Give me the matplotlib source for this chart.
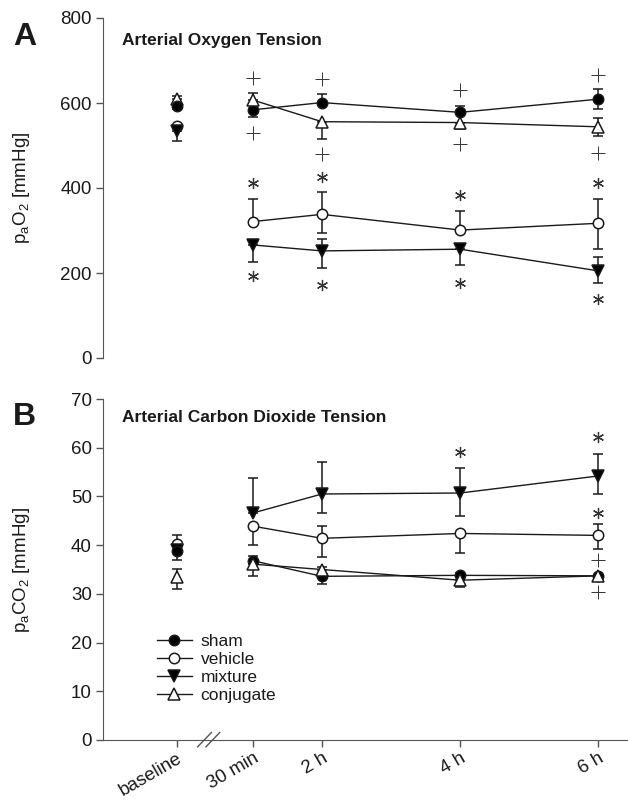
import matplotlib
matplotlib.use("Agg")
import matplotlib.pyplot as plt
import numpy as np

plt.rcParams['font.family'] = ['Liberation Sans', 'DejaVu Sans']
plt.rcParams['mathtext.fontset'] = 'custom'
plt.rcParams['mathtext.rm'] = 'Liberation Sans'
plt.rcParams['mathtext.it'] = 'Liberation Sans'

# time points (30 min .. 6 h at hour positions, baseline placed before the axis break)
time_labels = ["baseline", "30 min", "2 h", "4 h", "6 h"]
time_pos = [-0.1, 1, 2, 4, 6]

# ---- paO2 [mmHg]: mean, lower err, upper err
o2_sham = [592, 584, 601, 578, 609]
o2_sham_lo = [6, 16, 0, 0, 24]
o2_sham_up = [0, 0, 20, 15, 23]
o2_vehicle = [545, 321, 338, 301, 317]
o2_vehicle_lo = [0, 0, 45, 0, 60]
o2_vehicle_up = [0, 52, 53, 45, 56]
o2_mixture = [533, 266, 252, 256, 205]
o2_mixture_lo = [23, 39, 40, 38, 29]
o2_mixture_up = [0, 0, 27, 0, 33]
o2_conj = [609, 607, 556, 554, 544]
o2_conj_lo = [0, 0, 41, 16, 22]
o2_conj_up = [8, 17, 0, 0, 20]

o2_star_up = [412, 427, 384, 412]
o2_star_lo = [193, 172, 177, 140]
o2_plus_up = [658, 656, 631, 666]
o2_plus_lo = [529, 480, 503, 483]

# ---- paCO2 [mmHg]
co2_sham = [38.9, 36.8, 33.6, 33.8, 33.7]
co2_sham_lo = [2.0, 0, 1.5, 0, 0]
co2_sham_up = [0, 1.0, 0, 0.5, 0]
co2_vehicle = [40.3, 43.9, 41.4, 42.4, 42.0]
co2_vehicle_lo = [0, 3.9, 3.8, 4.0, 2.7]
co2_vehicle_up = [1.7, 0, 2.6, 0, 2.4]
co2_mixture = [39.0, 46.6, 50.5, 50.7, 54.2]
co2_mixture_lo = [0, 0, 3.9, 4.8, 3.8]
co2_mixture_up = [0, 7.1, 6.6, 5.1, 4.6]
co2_conj = [33.5, 36.1, 35.0, 32.8, 33.7]
co2_conj_lo = [2.6, 2.5, 0, 1.4, 0]
co2_conj_up = [1.6, 0, 0.6, 0, 0]

co2_star_x = [4, 6, 6]
co2_star_y = [59.2, 62.1, 46.5]
co2_plus_x = [6, 6]
co2_plus_y = [36.9, 30.4]

groups = ["sham", "vehicle", "mixture", "conjugate"]
styles = {
    "sham": dict(marker="o", mfc="black"),
    "vehicle": dict(marker="o", mfc="white"),
    "mixture": dict(marker="v", mfc="black"),
    "conjugate": dict(marker="^", mfc="white"),
}
msizes = {"sham": 7.5, "vehicle": 7.5, "mixture": 8.5, "conjugate": 8.5}
# stacking of the overlapping baseline points
base_z = {"sham": 3.4, "vehicle": 3.1, "mixture": 3.3, "conjugate": 3.2}

ink = "#1a1a1a"
spine_c = "#555555"

fig = plt.figure(figsize=(6.28, 8.0), dpi=100)
ax1 = fig.add_axes([103 / 628, 1 - 358 / 800, 525 / 628, 340 / 800])
ax2 = fig.add_axes([103 / 628, 1 - 740 / 800, 525 / 628, 341 / 800])


def draw_series(ax, x, y, lo, up, name, label=None):
    st = styles[name]
    # baseline point stands alone, the rest are connected
    ax.errorbar(x[0], y[0], yerr=[[lo[0]], [up[0]]], fmt=st["marker"], color=ink,
                mfc=st["mfc"], mec=ink, ms=msizes[name], mew=1.1, elinewidth=1.1,
                capsize=3.6, capthick=1.1, zorder=base_z[name])
    ax.errorbar(x[1:], y[1:], yerr=[lo[1:], up[1:]], fmt="-" + st["marker"], color=ink,
                mfc=st["mfc"], mec=ink, ms=msizes[name], mew=1.1, lw=1.0,
                elinewidth=1.1, capsize=3.6, capthick=1.1, zorder=3)
    if label:
        ax.plot([], [], "-" + st["marker"], color=ink, mfc=st["mfc"], mec=ink,
                ms=msizes[name], mew=1.1, lw=1.0, label=label)


o2 = {
    "sham": (o2_sham, o2_sham_lo, o2_sham_up),
    "vehicle": (o2_vehicle, o2_vehicle_lo, o2_vehicle_up),
    "mixture": (o2_mixture, o2_mixture_lo, o2_mixture_up),
    "conjugate": (o2_conj, o2_conj_lo, o2_conj_up),
}
co2 = {
    "sham": (co2_sham, co2_sham_lo, co2_sham_up),
    "vehicle": (co2_vehicle, co2_vehicle_lo, co2_vehicle_up),
    "mixture": (co2_mixture, co2_mixture_lo, co2_mixture_up),
    "conjugate": (co2_conj, co2_conj_lo, co2_conj_up),
}

for g in groups:
    draw_series(ax1, time_pos, *o2[g], g)
    draw_series(ax2, time_pos, *co2[g], g, label=g)

star = (6, 2, 0)
sym = "#333333"
ax1.plot(time_pos[1:], o2_star_up, ls="none", marker=star, ms=8, mew=0.9, color=sym)
ax1.plot(time_pos[1:], o2_star_lo, ls="none", marker=star, ms=8, mew=0.9, color=sym)
ax1.plot(time_pos[1:], o2_plus_up, ls="none", marker="+", ms=10, mew=0.7, color=sym)
ax1.plot(time_pos[1:], o2_plus_lo, ls="none", marker="+", ms=10, mew=0.7, color=sym)
ax2.plot(co2_star_x, co2_star_y, ls="none", marker=star, ms=8, mew=0.9, color=sym)
ax2.plot(co2_plus_x, co2_plus_y, ls="none", marker="+", ms=10, mew=0.7, color=sym)

for ax in (ax1, ax2):
    ax.set_xlim(-1.17, 6.43)
    for s in ("top", "right"):
        ax.spines[s].set_visible(False)
    ax.spines["left"].set_color(spine_c)
    ax.spines["bottom"].set_color(spine_c)
    ax.tick_params(axis="y", direction="out", length=5, width=1, color=spine_c,
                   labelsize=13.5, labelcolor=ink, pad=3)

ax1.set_ylim(0, 800)
ax1.set_yticks([0, 200, 400, 600, 800])
ax1.spines["bottom"].set_visible(False)
ax1.set_xticks([])
ax1.set_ylabel("p$_a$O$_2$ [mmHg]", fontsize=13.5, color=ink)
ax1.yaxis.set_label_coords(-0.135, 0.5)

ax2.set_ylim(0, 70)
ax2.set_yticks(np.arange(0, 71, 10))
ax2.set_xticks(time_pos)
ax2.set_xticklabels(time_labels, rotation=30, ha="right", rotation_mode="anchor",
                    fontsize=13.5, color=ink)
ax2.tick_params(axis="x", direction="out", length=5, width=1, color=spine_c, pad=2)
ax2.set_ylabel("p$_a$CO$_2$ [mmHg]", fontsize=13.5, color=ink)
ax2.yaxis.set_label_coords(-0.135, 0.5)

# axis break marks
for dx in (0.3, 0.42):
    ax2.plot([dx - 0.1, dx + 0.1], [-0.02, 0.022], transform=ax2.get_xaxis_transform(),
             color=spine_c, lw=1, clip_on=False)

leg = ax2.legend(loc="upper left", bbox_to_anchor=(0.103, 0.31), frameon=False,
                 fontsize=12.5, handlelength=2.0, handletextpad=0.5, labelspacing=0.15,
                 borderpad=0, borderaxespad=0)
for t in leg.get_texts():
    t.set_color(ink)

fig.text(122 / 628, 1 - 45 / 800, "Arterial Oxygen Tension", fontsize=12.5,
         fontweight="bold", color=ink)
fig.text(122 / 628, 1 - 422 / 800, "Arterial Carbon Dioxide Tension", fontsize=12.5,
         fontweight="bold", color=ink)
fig.text(13 / 628, 1 - 45 / 800, "A", fontsize=23, fontweight="bold", color=ink)
fig.text(13 / 628, 1 - 425 / 800, "B", fontsize=23, fontweight="bold", color=ink)

fig.savefig("out.png", dpi=100)
